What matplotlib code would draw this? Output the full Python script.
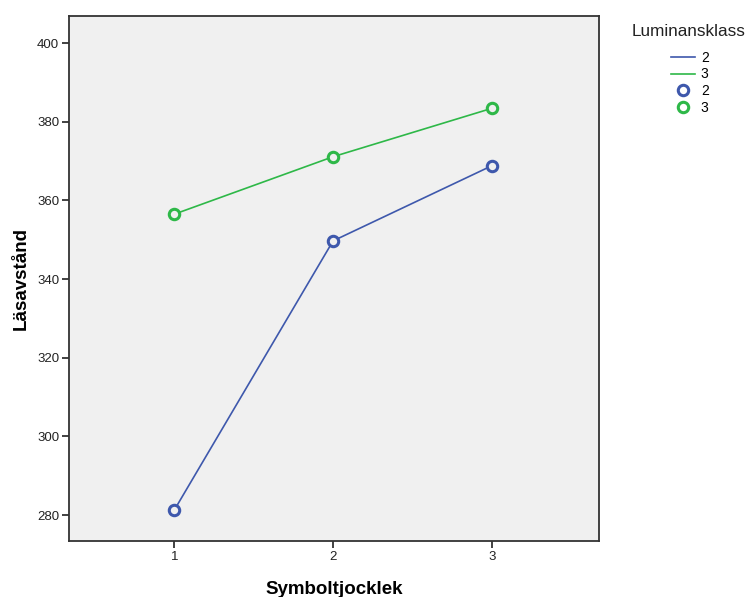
import matplotlib.pyplot as plt
from matplotlib.lines import Line2D

plt.rcParams['font.family'] = ['Liberation Sans', 'DejaVu Sans']

symbol = [1, 2, 3]
lum2 = [281.3, 349.7, 368.8]
lum3 = [356.5, 371.1, 383.4]
groups = ["2", "3"]
colors = ["#3e58ac", "#2eb848"]

fig = plt.figure(figsize=(7.47, 5.97), dpi=100)
ax = fig.add_axes([0.0924, 0.0938, 0.7095, 0.8802])
ax.set_facecolor("#f0f0f0")

for vals, col in zip([lum2, lum3], colors):
    ax.plot(symbol, vals, color=col, lw=1.2, zorder=2)
    ax.plot(symbol, vals, ls="none", marker="o", ms=7.5, mew=2.2,
            mec=col, mfc="#f0f0f0", zorder=3)

ax.set_xlim(0.336, 3.676)
ax.set_ylim(273.4, 407.0)
ax.set_xticks(symbol)
ax.set_yticks(range(280, 401, 20))
ax.tick_params(direction="out", length=5, width=1.3, color="#333333",
               labelsize=9.5, labelcolor="#222222", pad=2)
for s in ax.spines.values():
    s.set_color("#333333")
    s.set_linewidth(1.3)

ax.set_xlabel("Symboltjocklek", fontsize=13.5, fontweight="bold", labelpad=13)
ax.set_ylabel("Läsavstånd", fontsize=13.5, fontweight="bold", labelpad=5)

fig.text(632 / 747, 1 - 32 / 597, "Luminansklass", fontsize=12.3,
         va="center", ha="left", color="#222222")
handles = [Line2D([], [], color=c, lw=1.2) for c in colors]
handles += [Line2D([], [], ls="none", marker="o", ms=7.5, mew=2.2,
                   mec=c, mfc="white") for c in colors]
fig.legend(handles, groups + groups, loc="upper left",
           bbox_to_anchor=(671 / 747, 1 - 51 / 597), frameon=False,
           fontsize=10, handlelength=1.75, handletextpad=0.4,
           labelspacing=0.18, borderpad=0, borderaxespad=0)

fig.savefig("out.png", dpi=100)
